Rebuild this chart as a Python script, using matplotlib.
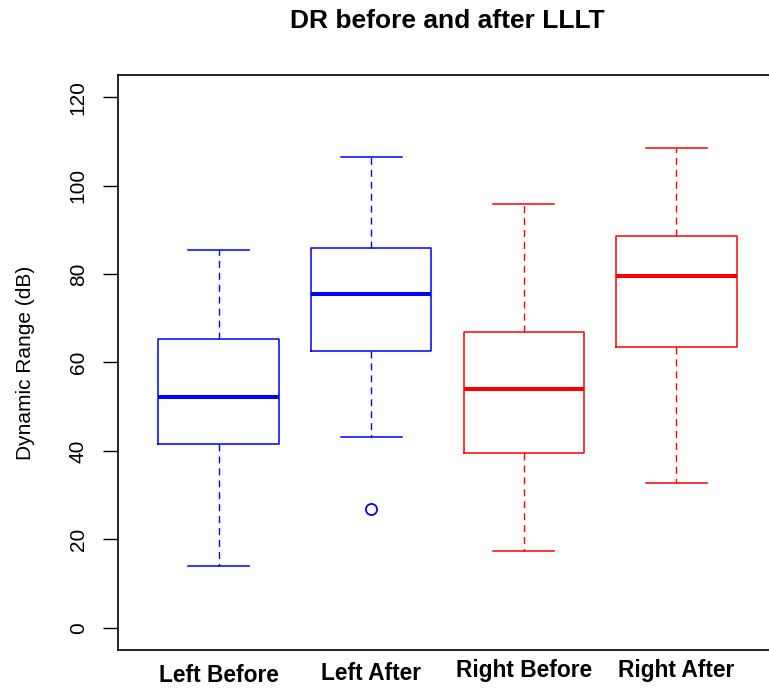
import matplotlib
matplotlib.use("Agg")
import matplotlib.pyplot as plt
import matplotlib.transforms as mtransforms

plt.rcParams['font.family'] = ['Liberation Sans', 'DejaVu Sans']

groups = ['Left Before', 'Left After', 'Right Before', 'Right After']
colors = ['blue', 'blue', 'red', 'red']
whislo = [14.0, 43.1, 17.4, 32.7]
q1 = [41.5, 62.7, 39.5, 63.6]
med = [52.3, 75.6, 54.1, 79.6]
q3 = [65.2, 85.9, 66.8, 88.7]
whishi = [85.5, 106.5, 95.9, 108.5]
fliers = [[], [26.8], [], []]
yticks = [0, 20, 40, 60, 80, 100, 120]

W, H = 769, 689
fig = plt.figure(figsize=(W / 100, H / 100), dpi=100)
ax = fig.add_axes([118 / W, (H - 650) / H, (777 - 118) / W, (650 - 75) / H])

for i, g in enumerate(groups):
    st = dict(label=g, whislo=whislo[i], q1=q1[i], med=med[i], q3=q3[i],
              whishi=whishi[i], fliers=fliers[i])
    c = colors[i]
    ax.bxp([st], positions=[i + 1], widths=0.79, showfliers=True,
           boxprops=dict(color=c, linewidth=1.1),
           medianprops=dict(color=c, linewidth=2.9, solid_capstyle='butt'),
           whiskerprops=dict(color=c, linewidth=1.0, linestyle=(0, (5, 3.6))),
           capprops=dict(color=c, linewidth=1.1),
           capwidths=0.4,
           flierprops=dict(marker='o', markerfacecolor='none', markeredgecolor=c,
                           markersize=8, markeredgewidth=1.3, linestyle='none'))

ax.set_xlim(0.34, 4.66)
ax.set_ylim(-5, 125)
ax.set_xticks([])
ax.set_yticks(yticks)
ax.set_yticklabels([str(v) for v in yticks], rotation=90, va='center', fontsize=15)
ax.tick_params(axis='y', length=10.8, width=1.0, pad=11)
for s in ax.spines.values():
    s.set_linewidth(1.2)

ax.set_ylabel('Dynamic Range (dB)', fontsize=15)
ax.yaxis.set_label_coords(-0.126, 0.5)

# bottom labels sit at slightly different heights in the original
trans = mtransforms.blended_transform_factory(ax.transData, fig.transFigure)
baselines = [682, 680, 677, 677]
for i, g in enumerate(groups):
    ax.text(i + 1, 1 - baselines[i] / H, g, transform=trans, ha='center',
            va='baseline', fontsize=16.4, fontweight='bold')

fig.text(447 / W, 1 - 28 / H, 'DR before and after LLLT', ha='center',
         va='baseline', fontsize=19, fontweight='bold')

fig.savefig('out.png', dpi=100)
